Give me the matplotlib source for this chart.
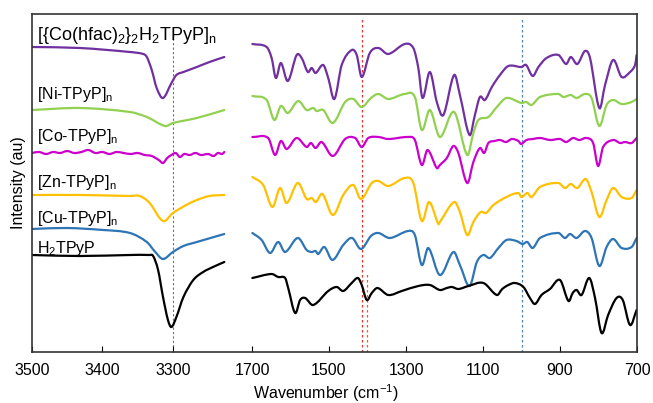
import matplotlib.pyplot as plt
import numpy as np
from matplotlib.patches import PathPatch
from matplotlib.path import Path

plt.rcParams['font.family'] = ['Liberation Sans', 'DejaVu Sans']
plt.rcParams['mathtext.fontset'] = 'custom'
plt.rcParams['mathtext.rm'] = 'Liberation Sans'
plt.rcParams['mathtext.it'] = 'Liberation Sans:italic'
plt.rcParams['font.size'] = 11.5

# (wavenumber cm-1, intensity a.u., stacked offsets included)
# --- high wavenumber region (3500-3226) ---
co_hfac_hi = [(3500, 305), (3432, 304), (3361, 300), (3342, 298), (3337, 295),
              (3330, 282), (3323, 264), (3314, 254), (3302, 269), (3295, 277),
              (3285, 280), (3266, 285), (3248, 290), (3227, 295)]
ni_hi = [(3500, 242), (3432, 244), (3361, 240), (3337, 235), (3311, 226),
         (3300, 229), (3266, 234), (3227, 242)]
co_hi = [(3500, 199), (3490, 200), (3480, 198), (3470, 200), (3460, 199),
         (3450, 201), (3440, 199), (3430, 200), (3420, 202), (3410, 199),
         (3400, 200), (3390, 198), (3380, 200), (3370, 199), (3360, 198),
         (3350, 199), (3340, 197), (3330, 196), (3320, 192), (3314, 189),
         (3308, 194), (3302, 197), (3296, 199), (3290, 195), (3284, 198),
         (3276, 197), (3268, 199), (3260, 197), (3250, 198), (3242, 196),
         (3236, 199), (3230, 198), (3227, 200)]
zn_hi = [(3500, 157), (3430, 157), (3361, 156), (3347, 156), (3333, 149),
         (3314, 131), (3300, 139), (3281, 147), (3266, 152), (3248, 156),
         (3227, 157)]
cu_hi = [(3500, 123), (3451, 124), (3399, 122), (3361, 119), (3337, 110),
         (3325, 100), (3314, 93), (3300, 100), (3285, 106), (3266, 110),
         (3227, 118)]
h2_hi = [(3500, 97), (3432, 96), (3361, 97), (3333, 97), (3328, 96),
         (3321, 82), (3314, 55), (3307, 32), (3302, 25), (3295, 35),
         (3285, 55), (3271, 72), (3257, 80), (3243, 85), (3227, 90)]

# --- fingerprint region (1700-700) ---
co_hfac_lo = [(1699, 308), (1662, 305), (1649, 294), (1638, 274), (1625, 289),
              (1607, 271), (1584, 297), (1571, 294), (1555, 280), (1545, 284),
              (1535, 279), (1515, 287), (1502, 274), (1486, 253), (1467, 287),
              (1441, 302), (1428, 297), (1415, 275), (1394, 299), (1372, 304),
              (1346, 298), (1303, 308), (1281, 304), (1268, 284), (1257, 254),
              (1238, 280), (1220, 250), (1203, 237), (1175, 277), (1160, 257),
              (1135, 217), (1121, 237), (1108, 255), (1095, 252), (1077, 265),
              (1056, 277), (1034, 286), (1000, 285), (988, 287), (971, 276),
              (956, 285), (935, 294), (904, 297), (884, 288), (872, 295),
              (855, 288), (835, 301), (822, 294), (798, 244), (783, 267),
              (762, 292), (740, 275), (718, 280), (705, 287), (701, 297)]
ni_lo = [(1699, 256), (1662, 252), (1642, 232), (1625, 246), (1607, 239),
         (1580, 251), (1558, 242), (1541, 244), (1532, 241), (1515, 242),
         (1490, 229), (1458, 250), (1437, 253), (1415, 245), (1391, 254),
         (1372, 258), (1346, 253), (1303, 258), (1277, 255), (1259, 222),
         (1238, 242), (1212, 215), (1175, 240), (1141, 197), (1125, 219),
         (1112, 232), (1086, 235), (1064, 245), (1039, 254), (1000, 249),
         (988, 250), (974, 247), (952, 255), (904, 258), (891, 255),
         (872, 257), (857, 254), (835, 258), (818, 254), (798, 226),
         (779, 247), (762, 252), (740, 248), (714, 250), (701, 253)]
co_lo = [(1699, 215), (1658, 214), (1640, 197), (1625, 211), (1610, 203),
         (1584, 214), (1558, 205), (1547, 209), (1535, 204), (1519, 210),
         (1490, 196), (1458, 213), (1432, 214), (1415, 205), (1398, 214),
         (1372, 215), (1346, 213), (1294, 215), (1277, 212), (1259, 187),
         (1244, 202), (1220, 184), (1212, 187), (1194, 194), (1177, 206),
         (1164, 199), (1141, 169), (1125, 190), (1108, 204), (1097, 199),
         (1086, 209), (1070, 211), (1056, 212), (1040, 210), (1025, 213),
         (1008, 211), (1001, 208), (987, 212), (970, 213), (952, 214),
         (925, 212), (900, 213), (884, 210), (866, 214), (850, 212),
         (831, 214), (814, 209), (801, 186), (788, 205), (762, 212),
         (744, 209), (731, 210), (714, 209), (701, 214)]
zn_lo = [(1699, 175), (1671, 167), (1647, 145), (1627, 164), (1610, 149),
         (1581, 169), (1558, 153), (1545, 154), (1534, 150), (1517, 158),
         (1490, 137), (1463, 157), (1437, 167), (1417, 153), (1389, 169),
         (1372, 171), (1346, 166), (1303, 174), (1281, 169), (1259, 131),
         (1240, 150), (1216, 128), (1212, 130), (1175, 150), (1160, 140),
         (1141, 117), (1125, 130), (1106, 140), (1092, 139), (1073, 147),
         (1039, 155), (1008, 159), (1000, 155), (985, 159), (974, 155),
         (952, 165), (904, 169), (887, 164), (872, 168), (855, 164),
         (833, 173), (818, 160), (798, 135), (779, 152), (762, 164),
         (740, 155), (714, 154), (701, 162)]
cu_lo = [(1699, 119), (1675, 112), (1653, 99), (1632, 110), (1614, 100),
         (1581, 114), (1558, 102), (1545, 100), (1535, 101), (1528, 98),
         (1512, 105), (1491, 92), (1463, 107), (1440, 114), (1417, 103),
         (1391, 116), (1372, 119), (1342, 114), (1294, 121), (1277, 117),
         (1259, 87), (1242, 104), (1212, 77), (1177, 100), (1160, 87),
         (1135, 66), (1116, 90), (1099, 97), (1082, 94), (1060, 104),
         (1039, 112), (1013, 111), (997, 108), (985, 110), (971, 104),
         (952, 114), (904, 119), (887, 114), (874, 118), (857, 114),
         (835, 121), (818, 114), (798, 86), (779, 105), (762, 113),
         (740, 104), (714, 105), (701, 114)]
h2_lo = [(1699, 74), (1649, 78), (1632, 75), (1614, 74), (1606, 64),
         (1588, 39), (1575, 52), (1562, 54), (1541, 47), (1502, 61),
         (1480, 65), (1463, 61), (1441, 69), (1425, 74), (1415, 67),
         (1402, 52), (1389, 59), (1374, 64), (1346, 57), (1311, 61),
         (1268, 66), (1238, 67), (1212, 62), (1194, 64), (1181, 65),
         (1164, 63), (1138, 66), (1099, 69), (1064, 57), (1050, 63),
         (1034, 67), (1017, 69), (995, 65), (978, 54), (965, 48),
         (948, 57), (926, 63), (900, 72), (878, 51), (867, 59),
         (857, 62), (844, 57), (824, 74), (809, 54), (792, 19),
         (775, 37), (753, 54), (737, 52), (718, 27), (701, 42)]

labels = [r'[{Co(hfac)$_2$}$_2$H$_2$TPyP]$_\mathrm{n}$', r'[Ni-TPyP]$_\mathrm{n}$',
          r'[Co-TPyP]$_\mathrm{n}$', r'[Zn-TPyP]$_\mathrm{n}$',
          r'[Cu-TPyP]$_\mathrm{n}$', r'H$_2$TPyP']
label_y = [317, 257, 215, 169, 134, 104]
label_size = [13, 11.5, 11.5, 11.5, 11.5, 11.5]
colors = ['#7030a0', '#92d050', '#cc00cc', '#ffc000', '#2e75b6', 'black']
hi_parts = [co_hfac_hi, ni_hi, co_hi, zn_hi, cu_hi, h2_hi]
lo_parts = [co_hfac_lo, ni_lo, co_lo, zn_lo, cu_lo, h2_lo]
ticks = [3500, 3400, 3300, 1700, 1500, 1300, 1100, 900, 700]

# broken wavenumber axis: 1700-700 compressed on the right, gap, 3226-3500 left
BREAK_WN = [700, 1700, 3226, 3500]
BREAK_POS = [-605, -220, -193, 0]


def fwd(w):
    return np.interp(np.asarray(w, dtype=float), BREAK_WN, BREAK_POS)


def inv(u):
    return np.interp(np.asarray(u, dtype=float), BREAK_POS, BREAK_WN)


def smooth_path(x, y):
    # cubic Hermite (Catmull-Rom slopes) through the read points, as Bezier path
    n = len(x)
    m = np.empty(n)
    m[1:-1] = (y[2:] - y[:-2]) / (x[2:] - x[:-2])
    m[0] = (y[1] - y[0]) / (x[1] - x[0])
    m[-1] = (y[-1] - y[-2]) / (x[-1] - x[-2])
    verts = [(x[0], y[0])]
    codes = [Path.MOVETO]
    for i in range(n - 1):
        d = (x[i + 1] - x[i]) / 3
        verts += [(x[i] + d, y[i] + m[i] * d),
                  (x[i + 1] - d, y[i + 1] - m[i + 1] * d),
                  (x[i + 1], y[i + 1])]
        codes += [Path.CURVE4] * 3
    return Path(verts, codes)


fig = plt.figure(figsize=(6.53, 4.03), dpi=100)
ax = fig.add_axes([32 / 653, 51 / 403, 605 / 653, 338 / 403])
ax.set_xscale('function', functions=(fwd, inv))

# reference lines
ax.vlines(3300, 5, 325, colors='#707070', linestyles=(0, (2, 2)), lw=0.8, zorder=1)
ax.vlines([1415, 1000], 0, 335, colors=['#e8312b', '#4f81bd'],
          linestyles=(0, (2, 2)), lw=0.9, zorder=1)
ax.vlines(1401, 0, 80, colors='#e0602a', linestyles=(0, (2, 2)), lw=0.9, zorder=1)

for hi, lo, c, lab, ly, fs in zip(hi_parts, lo_parts, colors, labels,
                                  label_y, label_size):
    for part in (hi, lo):
        wn, inten = np.array(part, dtype=float).T
        ax.add_patch(PathPatch(smooth_path(wn, inten), fill=False, edgecolor=c,
                               lw=1.6, zorder=2, joinstyle='round',
                               capstyle='round'))
    ax.text(3493, ly, lab, ha='left', va='center', fontsize=fs)

ax.set_xlim(3500, 700)
ax.set_ylim(0, 338)
ax.set_xticks(ticks)
ax.set_xticklabels([str(t) for t in ticks])
ax.minorticks_off()
ax.set_yticks([])
ax.tick_params(axis='x', direction='in', length=4, width=0.8, pad=8, labelsize=11.5)
for s in ax.spines.values():
    s.set_linewidth(1.2)
    s.set_color('#333333')

ax.set_ylabel('Intensity (au)', fontsize=11.5, labelpad=4)
ax.set_xlabel('Wavenumber (cm$^{-1}$)', fontsize=11.5)
ax.xaxis.set_label_coords(0.486, -0.09)

fig.savefig('out.png', dpi=100)
